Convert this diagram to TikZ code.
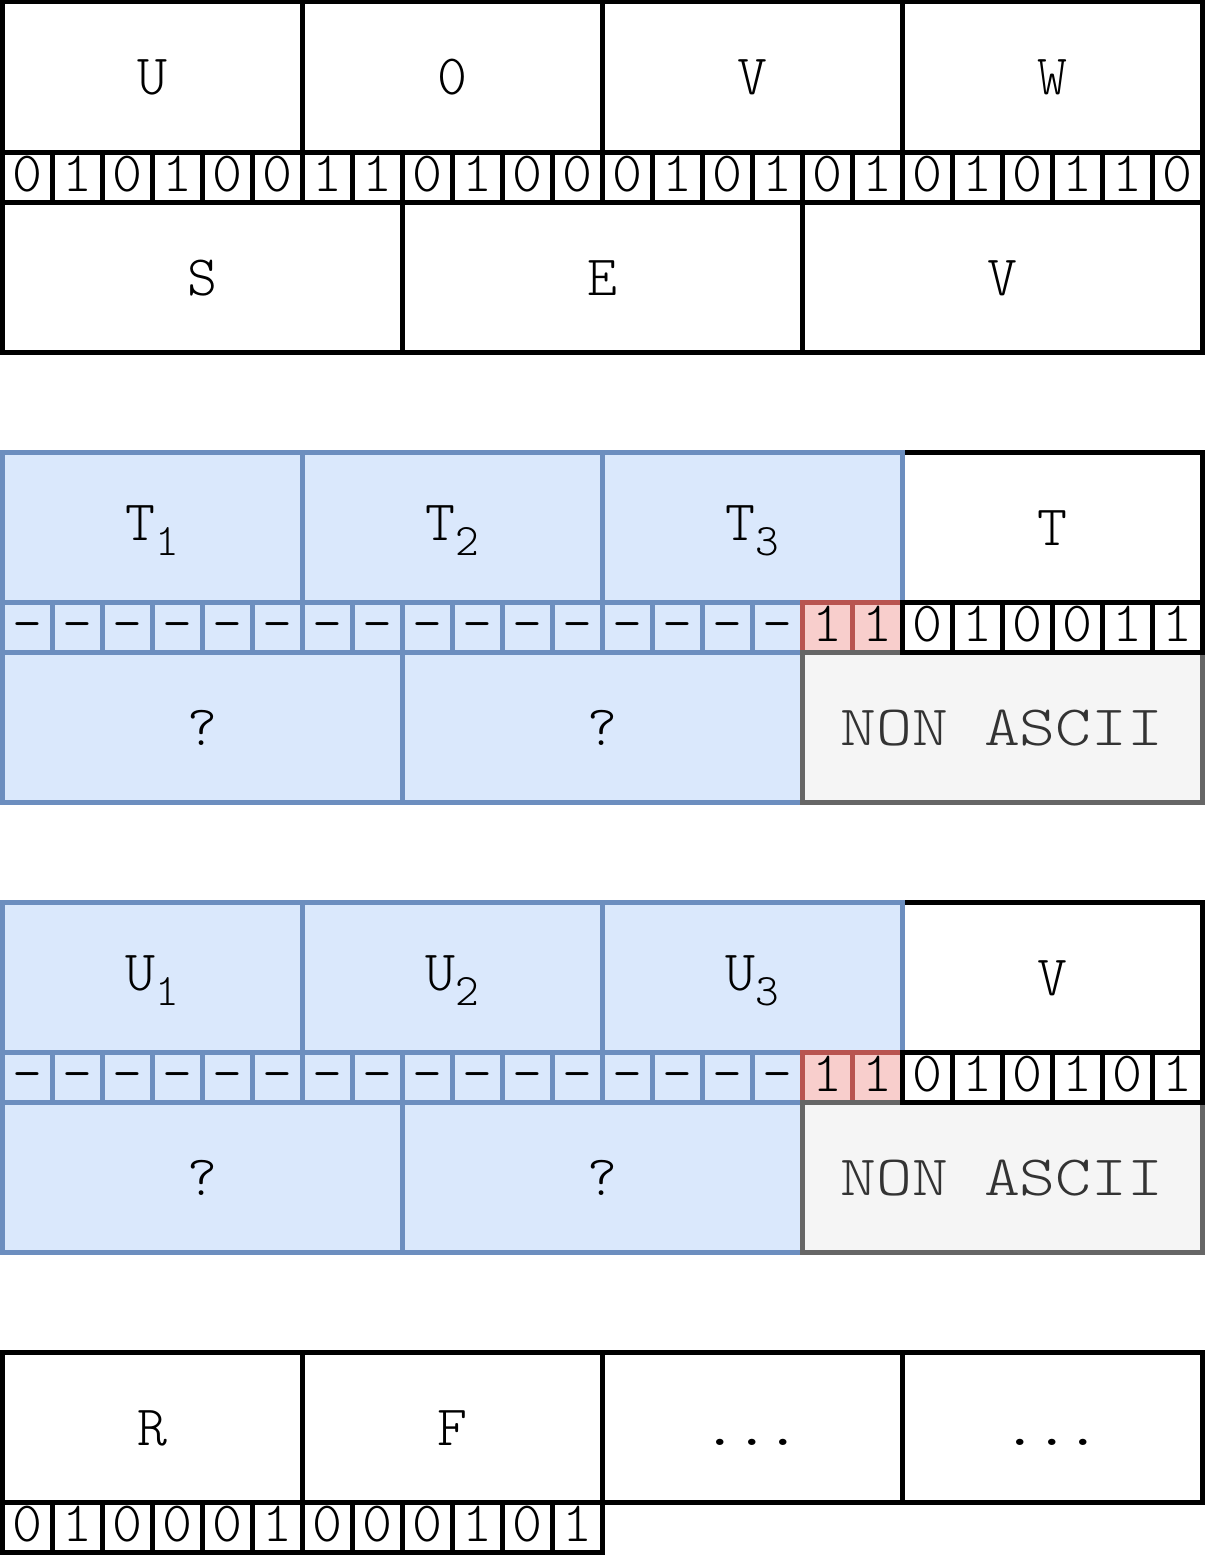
\documentclass[tikz,border=0pt]{standalone}
\usepackage{fontspec}
\setmonofont[Extension=.otf]{lmmonolt10-regular}
\newfontfamily\widefont[Extension=.otf, FakeStretch=1.2]{lmmonolt10-regular}
\newfontfamily\dotfont[Extension=.otf, FakeStretch=1.2]{lmmono10-regular}
\definecolor{bfill}{HTML}{DAE8FC}
\definecolor{bline}{HTML}{6C8EBF}
\definecolor{rfill}{HTML}{F8CECC}
\definecolor{rline}{HTML}{B85450}
\definecolor{gfill}{HTML}{F5F5F5}
\definecolor{gline}{HTML}{666666}
\definecolor{gtext}{HTML}{333333}
\newcommand{\subtxt}[2]{#1\raisebox{-15pt}{\fontsize{45}{45}\selectfont #2}}
\begin{document}
\begin{tikzpicture}[x=1pt,y=-1pt,
  cell/.style={draw=black, line width=5pt, fill=white, inner sep=0pt,
    font=\ttfamily\fontsize{57}{57}\selectfont},
  topbox/.style={cell, minimum width=300pt, minimum height=150pt, text height=36pt, text depth=0pt},
  subbox/.style={topbox, text depth=10pt},
  dotbox/.style={topbox, font=\dotfont\fontsize{50}{50}\selectfont},
  botbox/.style={cell, minimum width=400pt, minimum height=150pt, text height=36pt, text depth=0pt},
  widebox/.style={botbox, font=\widefont\fontsize{57}{57}\selectfont},
  bitbox/.style={cell, minimum width=50pt, minimum height=50pt, text height=28pt, text depth=0pt},
  bluebox/.style={fill=bfill, draw=bline},
  redbox/.style={fill=rfill, draw=rline},
  graybox/.style={fill=gfill, draw=gline, text=gtext}]
\useasboundingbox (0,0) rectangle (1205,1560);

% ---------- block 1 ----------
\foreach \l [count=\j from 0] in {U,0,V,W}
  \node[topbox] (a\j) at (152+300*\j,77) {\l};
\foreach \b [count=\i from 0] in {0,1,0,1,0,0,1,1,0,1,0,0,0,1,0,1,0,1,0,1,0,1,1,0}
  \node[bitbox] (ab\i) at (27+50*\i,177) {\b};
\foreach \l [count=\k from 0] in {S,E,V}
  \node[botbox] (ac\k) at (202+400*\k,277) {\l};

% ---------- block 2 ----------
\node[topbox] (b3) at (1052,527) {T};
\foreach \l [count=\j from 0] in {1,2,3}
  \node[subbox,bluebox] (b\j) at (152+300*\j,527) {\subtxt{T}{\l}};
\node[botbox,bluebox] (bc0) at (202,727) {?};
\node[botbox,bluebox] (bc1) at (602,727) {?};
\foreach \i in {0,...,15}
  \node[bitbox,bluebox] (bb\i) at (27+50*\i,627) {-};
\node[bitbox,redbox] (bb16) at (827,627) {1};
\node[bitbox,redbox] (bb17) at (877,627) {1};
\node[widebox,graybox] (bc2) at (1002,727) {NON ASCII};
\foreach \b [count=\i from 18] in {0,1,0,0,1,1}
  \node[bitbox] (bb\i) at (27+50*\i,627) {\b};

% ---------- block 3 ----------
\node[topbox] (c3) at (1052,977) {V};
\foreach \l [count=\j from 0] in {1,2,3}
  \node[subbox,bluebox] (c\j) at (152+300*\j,977) {\subtxt{U}{\l}};
\node[botbox,bluebox] (cc0) at (202,1177) {?};
\node[botbox,bluebox] (cc1) at (602,1177) {?};
\foreach \i in {0,...,15}
  \node[bitbox,bluebox] (cb\i) at (27+50*\i,1077) {-};
\node[bitbox,redbox] (cb16) at (827,1077) {1};
\node[bitbox,redbox] (cb17) at (877,1077) {1};
\node[widebox,graybox] (cc2) at (1002,1177) {NON ASCII};
\foreach \b [count=\i from 18] in {0,1,0,1,0,1}
  \node[bitbox] (cb\i) at (27+50*\i,1077) {\b};

% ---------- block 4 ----------
\node[topbox] (d0) at (152,1427) {R};
\node[topbox] (d1) at (452,1427) {F};
\node[dotbox] (d2) at (752,1427) {...};
\node[dotbox] (d3) at (1052,1427) {...};
\foreach \b [count=\i from 0] in {0,1,0,0,0,1,0,0,0,1,0,1}
  \node[bitbox] (db\i) at (27+50*\i,1527) {\b};
\end{tikzpicture}
\end{document}
